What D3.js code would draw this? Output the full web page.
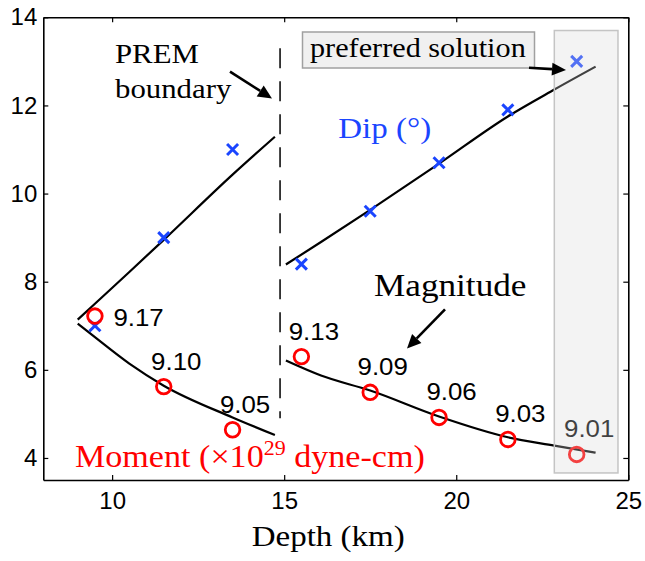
<!DOCTYPE html>
<html>
<head>
<meta charset="utf-8">
<script src="https://cdn.jsdelivr.net/npm/d3@7"></script>
<style>
  body { margin: 0; background: #fff; }
  .tick text { font-family: "Liberation Sans", Arial, sans-serif; font-size: 24px; fill: #000; }
</style>
</head>
<body>
<svg id="chart"></svg>
<script>
// values
var depths = [9.5, 11.5, 13.5, 15.5, 17.5, 19.5, 21.5, 23.5];
var dip = [7.0, 9.0, 11.0, 8.4, 9.6, 10.7, 11.9, 13.0];
var moment = [7.22, 5.62, 4.64, 6.3, 5.49, 4.92, 4.42, 4.08];
var magnitude = ["9.17", "9.10", "9.05", "9.13", "9.09", "9.06", "9.03", "9.01"];

// fitted curves, above and below the PREM boundary
var fitDepthA = [9.0, 9.5, 10.5, 11.5, 13.5, 14.73];
var dipFitA = [7.14, 7.5, 8.22, 8.95, 10.43, 11.29];
var momentFitA = [7.05, 6.74, 6.14, 5.64, 4.92, 4.52];
var fitDepthB = [15.05, 16.07, 17.5, 19.5, 21.5, 22.85, 24.05];
var dipFitB = [8.39, 8.9, 9.63, 10.68, 11.75, 12.36, 12.88];
var momentFitB = [6.21, 5.87, 5.53, 4.94, 4.47, 4.28, 4.12];

var xTicks = [10, 15, 20, 25];
var yTicks = [4, 6, 8, 10, 12, 14];

var width = 645, height = 561;
var blue = "#1a45ff", red = "#ff0000";
var serif = "'Liberation Serif', 'Times New Roman', serif";
var sans = "'Liberation Sans', Arial, sans-serif";

var svg = d3.select("#chart").attr("width", width).attr("height", height);

var x = d3.scaleLinear().domain([8, 25]).range([43.3, 628.3]);
var y = d3.scaleLinear().domain([3.5, 14]).range([480, 17.3]);

// axes, ticks pointing inward, mirrored on top and right
svg.append("g")
  .attr("transform", "translate(0," + y.range()[0] + ")")
  .call(d3.axisBottom(x).tickValues(xTicks).tickSizeInner(-5).tickSizeOuter(0).tickPadding(12));
svg.append("g")
  .attr("transform", "translate(" + x.range()[0] + ",0)")
  .call(d3.axisLeft(y).tickValues(yTicks).tickSizeInner(-5).tickSizeOuter(0).tickPadding(6));
svg.append("g")
  .attr("transform", "translate(0," + y.range()[1] + ")")
  .call(d3.axisTop(x).tickValues(xTicks).tickSizeInner(-5).tickSizeOuter(0).tickFormat(""));
svg.append("g")
  .attr("transform", "translate(" + x.range()[1] + ",0)")
  .call(d3.axisRight(y).tickValues(yTicks).tickSizeInner(-5).tickSizeOuter(0).tickFormat(""));
svg.selectAll(".domain").attr("stroke-width", 1.6);
svg.selectAll(".tick line").attr("stroke-width", 1.2);

// text with the slight horizontal stretch of the original
function label(px, py, s, size, family, color, anchor) {
  return svg.append("text")
    .attr("transform", "translate(" + px + "," + py + ") scale(1.1,1)")
    .attr("font-family", family)
    .attr("font-size", size)
    .attr("fill", color || "#000")
    .attr("text-anchor", anchor || "start")
    .text(s);
}

function arrow(x1, y1, x2, y2) {
  var a = Math.atan2(y2 - y1, x2 - x1), L = 14, W = 6.5;
  var bx = x2 - L * Math.cos(a), by = y2 - L * Math.sin(a);
  svg.append("line")
    .attr("x1", x1).attr("y1", y1).attr("x2", bx).attr("y2", by)
    .attr("stroke", "#000").attr("stroke-width", 2.6);
  svg.append("path")
    .attr("d", "M" + x2 + "," + y2 +
      "L" + (bx + W * Math.sin(a)) + "," + (by - W * Math.cos(a)) +
      "L" + (bx - W * Math.sin(a)) + "," + (by + W * Math.cos(a)) + "Z")
    .attr("fill", "#000");
}

// fitted lines
var line = d3.line().x(function (d) { return x(d[0]); }).y(function (d) { return y(d[1]); })
  .curve(d3.curveMonotoneX);
[[fitDepthA, dipFitA], [fitDepthA, momentFitA], [fitDepthB, dipFitB], [fitDepthB, momentFitB]]
  .forEach(function (f) {
    svg.append("path")
      .datum(d3.zip(f[0], f[1]))
      .attr("d", line)
      .attr("fill", "none")
      .attr("stroke", "#000")
      .attr("stroke-width", 2.2);
  });

// PREM boundary
svg.append("line")
  .attr("x1", x(14.88)).attr("x2", x(14.88))
  .attr("y1", y(13.3)).attr("y2", y(4.9))
  .attr("stroke", "#000").attr("stroke-width", 1.5)
  .attr("stroke-dasharray", "20,13");

// dip crosses
svg.append("g").selectAll("path")
  .data(d3.zip(depths, dip))
  .enter()
  .append("path")
  .attr("d", function (d) {
    var cx = x(d[0]), cy = y(d[1]), s = 5.5;
    return "M" + (cx - s) + "," + (cy - s) + "L" + (cx + s) + "," + (cy + s) +
      "M" + (cx - s) + "," + (cy + s) + "L" + (cx + s) + "," + (cy - s);
  })
  .attr("stroke", blue)
  .attr("stroke-width", 3);

// moment circles
svg.append("g").selectAll("circle")
  .data(d3.zip(depths, moment))
  .enter()
  .append("circle")
  .attr("cx", function (d) { return x(d[0]); })
  .attr("cy", function (d) { return y(d[1]); })
  .attr("r", 7.3)
  .attr("fill", "none")
  .attr("stroke", red)
  .attr("stroke-width", 2.8);

// magnitude labels
magnitude.forEach(function (m, i) {
  var px = x(depths[i]), py = y(moment[i]);
  if (i === 0) label(px + 18.5, py + 9.5, m, 23.5, sans, "#000", "start");
  else label(px + 12.5, py - 17, m, 23.5, sans, "#000", "middle");
});

// annotations
label(115, 63.3, "PREM", 28, serif);
label(115, 98.3, "boundary", 28, serif);
arrow(230, 71.7, 272, 98.5);
label(338.3, 138.3, "Dip (°)", 30, serif, blue);
label(374, 296, "Magnitude", 32, serif);
arrow(445, 309.3, 407, 348.5);

var mom = label(75, 467.3, "Moment (×10", 31, serif, red);
mom.append("tspan").attr("font-size", 20).attr("dy", -12).text("29");
mom.append("tspan").attr("dy", 12).text(" dyne-cm)");

label(251.7, 546, "Depth (km)", 30, serif);

// preferred solution shading, drawn over the marks
svg.append("rect")
  .attr("x", x(22.85)).attr("y", y(13.7))
  .attr("width", x(24.7) - x(22.85)).attr("height", y(3.66) - y(13.7))
  .attr("fill", "#d8d8d8").attr("fill-opacity", 0.3)
  .attr("stroke", "#c4c4c4").attr("stroke-width", 1.5);

svg.append("rect")
  .attr("x", 302.5).attr("y", 32)
  .attr("width", 232).attr("height", 36)
  .attr("fill", "#f0f0f0")
  .attr("stroke", "#a0a0a0").attr("stroke-width", 1.5);
label(310, 56.7, "preferred solution", 27.5, serif);
arrow(529, 67.7, 566, 70);
</script>
</body>
</html>
